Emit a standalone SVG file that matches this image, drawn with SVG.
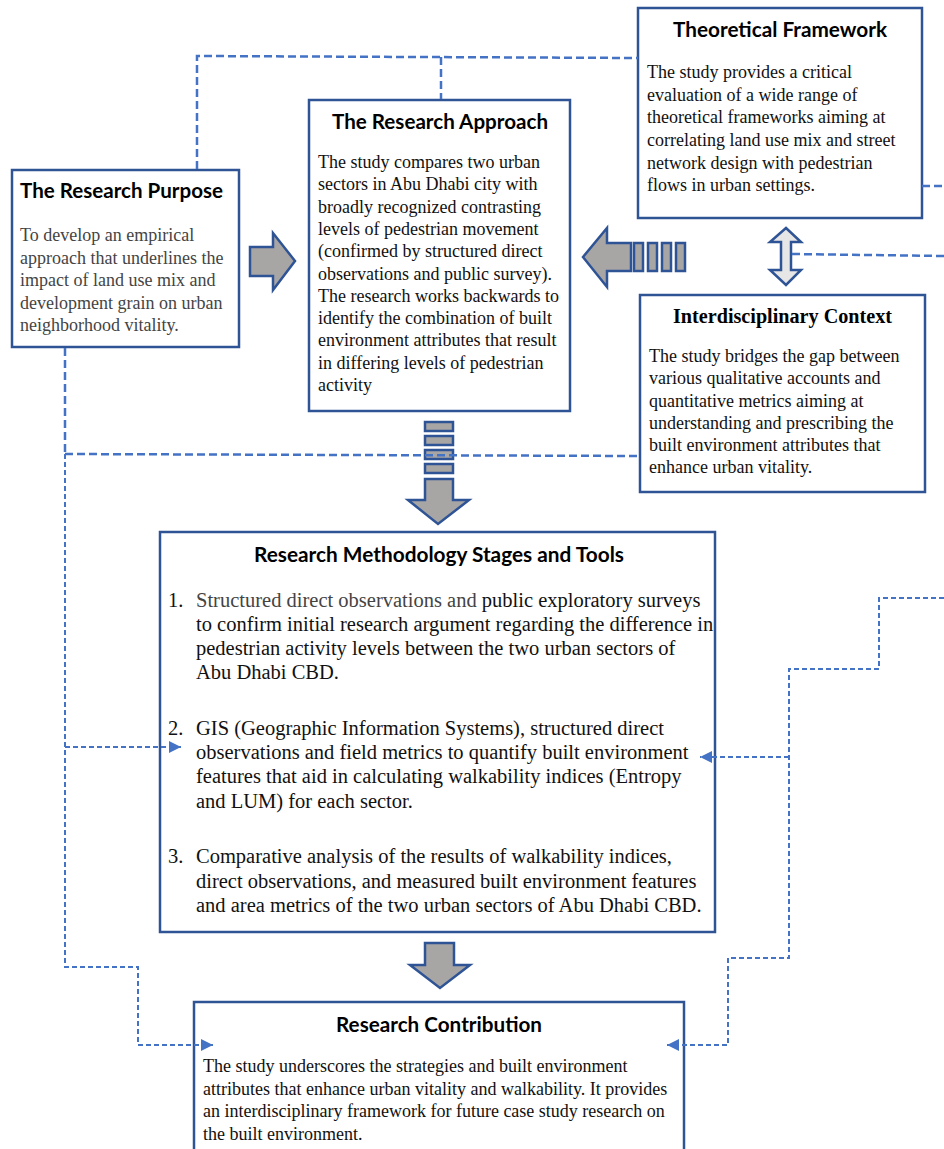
<svg xmlns="http://www.w3.org/2000/svg" width="944" height="1149" viewBox="0 0 944 1149">
<style>
.box{fill:#ffffff;stroke:#2F5496;stroke-width:2.5}
.title{font-family:Lato,"Open Sans",sans-serif;font-weight:bold;font-size:20px;fill:#000}
.stitle{font-family:"Liberation Serif","Times New Roman",serif;font-weight:bold;font-size:20px;fill:#000}
.body{font-family:"Liberation Serif","Times New Roman",serif;font-size:18px;fill:#111}
.gray{fill:#444}
.meth{font-family:"Liberation Serif","Times New Roman",serif;font-size:20.5px;fill:#111}
.blk{fill:#A8A5A5;stroke:#2F5496;stroke-width:2.5;stroke-linejoin:miter}
.dbl{fill:#E7E6E6;stroke:#2F5496;stroke-width:2.5}
.dl{fill:none;stroke:#4472C4;stroke-width:2.5;stroke-dasharray:8 4}
.ds{fill:none;stroke:#4472C4;stroke-width:2;stroke-dasharray:5 3}
</style>
<defs>
<marker id="ah" markerUnits="userSpaceOnUse" markerWidth="12" markerHeight="12" viewBox="0 0 12 12" refX="12" refY="6" orient="auto">
<path d="M0,0 L12,6 L0,12 Z" fill="#4472C4"/>
</marker>
</defs>

<g id="research-purpose">
<rect class="box" x="12" y="170" width="227" height="177"/>
<text class="title" x="20" y="198" textLength="203" lengthAdjust="spacingAndGlyphs">The Research Purpose</text>
<text class="body gray" x="20" y="241">To develop an empirical</text>
<text class="body gray" x="20" y="264">approach that underlines the</text>
<text class="body gray" x="20" y="286">impact of land use mix and</text>
<text class="body gray" x="20" y="309">development grain on urban</text>
<text class="body gray" x="20" y="331">neighborhood vitality.</text>
</g>

<g id="research-approach">
<rect class="box" x="309" y="100" width="261" height="311"/>
<text class="title" x="332" y="129" textLength="216" lengthAdjust="spacingAndGlyphs">The Research Approach</text>
<text class="body" x="318" y="168">The study compares two urban</text>
<text class="body" x="318" y="190.3">sectors in Abu Dhabi city with</text>
<text class="body" x="318" y="212.6">broadly recognized contrasting</text>
<text class="body" x="318" y="234.9">levels of pedestrian movement</text>
<text class="body" x="318" y="257.2">(confirmed by structured direct</text>
<text class="body" x="318" y="279.5">observations and public survey).</text>
<text class="body" x="318" y="301.8">The research works backwards to</text>
<text class="body" x="318" y="324.1">identify the combination of built</text>
<text class="body" x="318" y="346.4">environment attributes that result</text>
<text class="body" x="318" y="368.7">in differing levels of pedestrian</text>
<text class="body" x="318" y="391">activity</text>
</g>

<g id="theoretical-framework">
<rect class="box" x="638" y="8" width="284" height="210"/>
<text class="title" x="673" y="37" textLength="214" lengthAdjust="spacingAndGlyphs">Theoretical Framework</text>
<text class="body" x="647" y="78">The study provides a critical</text>
<text class="body" x="647" y="101">evaluation of a wide range of</text>
<text class="body" x="647" y="123">theoretical frameworks aiming at</text>
<text class="body" x="647" y="146">correlating land use mix and street</text>
<text class="body" x="647" y="169">network design with pedestrian</text>
<text class="body" x="647" y="191">flows in urban settings.</text>
</g>

<g id="interdisciplinary-context">
<rect class="box" x="640" y="295" width="285" height="197"/>
<text class="stitle" x="673" y="323" textLength="219" lengthAdjust="spacingAndGlyphs">Interdisciplinary Context</text>
<text class="body" x="649" y="362">The study bridges the gap between</text>
<text class="body" x="649" y="384">various qualitative accounts and</text>
<text class="body" x="649" y="407">quantitative metrics aiming at</text>
<text class="body" x="649" y="429">understanding and prescribing the</text>
<text class="body" x="649" y="451">built environment attributes that</text>
<text class="body" x="649" y="473">enhance urban vitality.</text>
</g>

<g id="methodology">
<rect class="box" x="160" y="532" width="555" height="400"/>
<text class="title" x="254" y="562" textLength="370" lengthAdjust="spacingAndGlyphs">Research Methodology Stages and Tools</text>
<text class="meth gray" x="168" y="607">1.</text>
<text class="meth" x="196" y="607"><tspan class="gray">Structured direct observations and </tspan>public exploratory surveys</text>
<text class="meth" x="196" y="631">to confirm initial research argument regarding the difference in</text>
<text class="meth" x="196" y="655">pedestrian activity levels between the two urban sectors of</text>
<text class="meth" x="196" y="679">Abu Dhabi CBD.</text>
<text class="meth" x="168" y="735">2.</text>
<text class="meth" x="196" y="735">GIS (Geographic Information Systems), structured direct</text>
<text class="meth" x="196" y="759">observations and field metrics to quantify built environment</text>
<text class="meth" x="196" y="783">features that aid in calculating walkability indices (Entropy</text>
<text class="meth" x="196" y="808">and LUM) for each sector.</text>
<text class="meth" x="168" y="863">3.</text>
<text class="meth" x="196" y="863">Comparative analysis of the results of walkability indices,</text>
<text class="meth" x="196" y="888">direct observations, and measured built environment features</text>
<text class="meth" x="196" y="912">and area metrics of the two urban sectors of Abu Dhabi CBD.</text>
</g>

<g id="research-contribution">
<rect class="box" x="194" y="1002" width="490" height="160"/>
<text class="title" x="336" y="1032" textLength="206" lengthAdjust="spacingAndGlyphs">Research Contribution</text>
<text class="body" x="203" y="1072">The study underscores the strategies and built environment</text>
<text class="body" x="203" y="1095">attributes that enhance urban vitality and walkability. It provides</text>
<text class="body" x="203" y="1117">an interdisciplinary framework for future case study research on</text>
<text class="body" x="203" y="1140">the built environment.</text>
</g>

<g id="block-arrows">
<polygon class="blk" points="250,247 273,247 273,233 295,261 273,290 273,276 250,276"/>
<polygon class="blk" points="583,257 607,228 607,243 631,243 631,271 607,271 607,287"/>
<rect class="blk" x="634" y="243" width="9" height="28"/>
<rect class="blk" x="648" y="243" width="9" height="28"/>
<rect class="blk" x="662" y="243" width="9" height="28"/>
<rect class="blk" x="676" y="243" width="9" height="28"/>
<polygon class="dbl" points="786,228 801,242 791,242 791,270 801,270 786,285 770,270 781,270 781,242 770,242"/>
<rect class="blk" x="425" y="422" width="28" height="9"/>
<rect class="blk" x="425" y="436" width="28" height="9"/>
<rect class="blk" x="425" y="450" width="28" height="9"/>
<rect class="blk" x="425" y="464" width="28" height="9"/>
<polygon class="blk" points="425,479 453,479 453,500 469,500 438,524 408,500 425,500"/>
<polygon class="blk" points="425,943 454,943 454,965 470,965 440,988 410,965 425,965"/>
</g>

<g id="connectors">
<path class="dl" d="M197,169 V56 L638,58"/>
<path class="dl" d="M441,57 V99"/>
<path class="dl" d="M922,186 H944"/>
<path class="dl" d="M792,254 L944,256"/>
<path class="dl" d="M65,348 V454"/>
<path class="dl" d="M65,454 L640,456"/>
<path class="ds" d="M65,454 V967 H138 V1045 H213" marker-end="url(#ah)"/>
<path class="ds" d="M65,747 H181" marker-end="url(#ah)"/>
<path class="ds" d="M944,598 H879 V669 H789 V958 H728 V1045 H667" marker-end="url(#ah)"/>
<path class="ds" d="M789,757 H700" marker-end="url(#ah)"/>
</g>
</svg>
